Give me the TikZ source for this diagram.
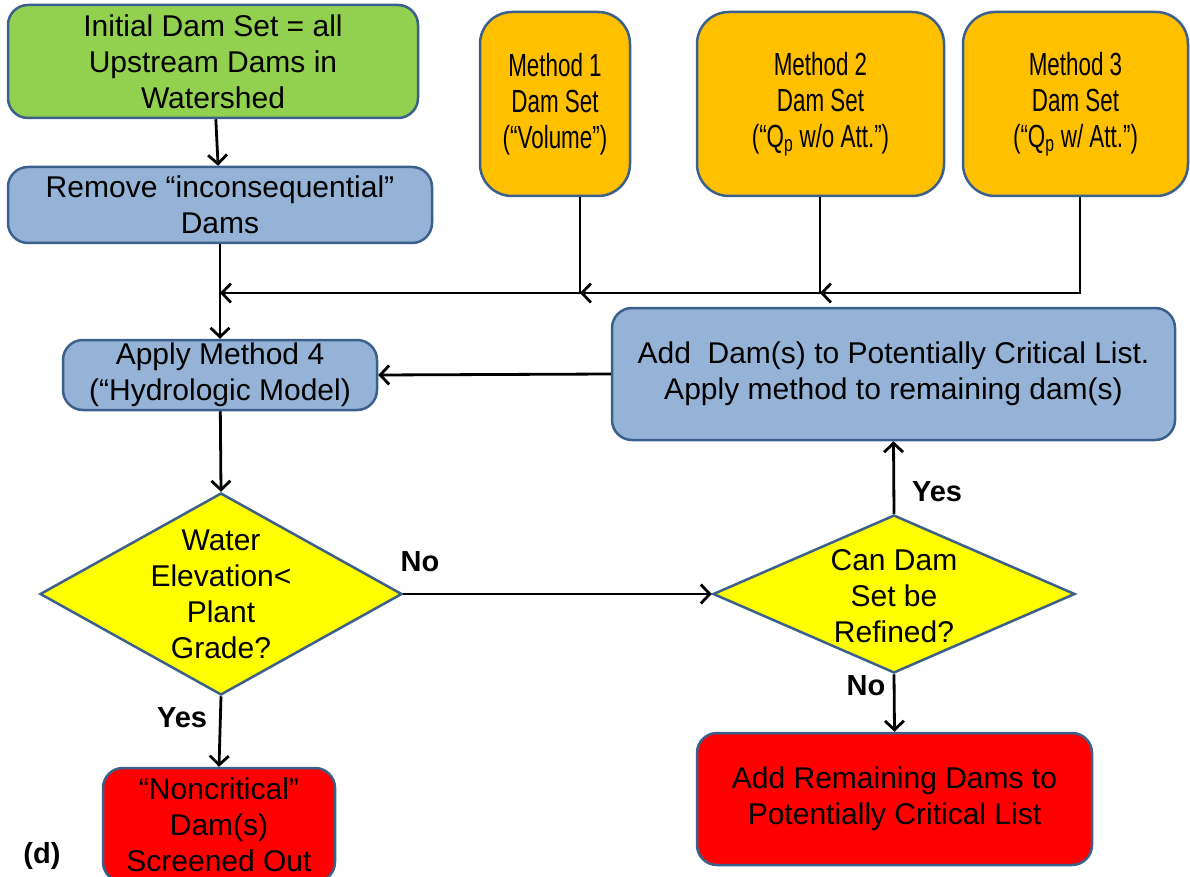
\documentclass[tikz,border=0pt]{standalone}
\usepackage{fontspec}
\setmainfont{Liberation Sans}
\newfontfamily\narrowsf[FakeStretch=0.7]{Liberation Sans}
\usetikzlibrary{arrows.meta}
\usetikzlibrary{shapes.geometric}
\tikzset{>={Straight Barb[length=9pt,width=19pt]}}
\definecolor{edgecol}{RGB}{60,96,140}
\definecolor{startcol}{RGB}{146,208,80}
\definecolor{stepcol}{RGB}{149,179,215}
\definecolor{methodcol}{RGB}{255,192,0}
\definecolor{askcol}{RGB}{255,255,0}
\definecolor{endcol}{RGB}{255,0,0}
\tikzset{
  box/.style={draw=edgecol,line width=2.5pt,rounded corners=20pt,inner sep=0pt,
              align=center,font=\fontsize{30}{36}\selectfont},
  startbox/.style={box,fill=startcol},
  stepbox/.style={box,fill=stepcol},
  methodbox/.style={box,fill=methodcol,rounded corners=32pt,
                    font=\fontsize{32}{36}\narrowsf},
  endbox/.style={box,fill=endcol},
  decision/.style={diamond,draw=edgecol,line width=2.5pt,fill=askcol,inner sep=0pt},
  asktext/.style={align=center,inner sep=0pt,font=\fontsize{30}{36}\selectfont},
  flow/.style={->,line width=2.8pt},
  answer/.style={font=\fontsize{29}{32}\selectfont\bfseries,inner sep=0pt}
}

\begin{document}
\begin{tikzpicture}[x=1pt,y=-1pt]
  \useasboundingbox (0,0) rectangle (1190,877);
  \def\hy{293} % height of collecting line

  % BOXES
  \node[startbox,minimum width=410,minimum height=113] (init) at (213,61.5)
    {Initial Dam Set = all\\Upstream Dams in\\Watershed};
  \node[stepbox,minimum width=424,minimum height=76] (remove) at (220,205)
    {Remove “inconsequential”\\Dams};
  \node[methodbox,minimum width=150,minimum height=184] (m1) at (555,104)
    {Method 1\\Dam Set\\(“Volume”)};
  \node[methodbox,minimum width=247,minimum height=184] (m2) at (820.5,104)
    {Method 2\\Dam Set\\(“Q\textsubscript{p} w/o Att.”)};
  \node[methodbox,minimum width=225,minimum height=184] (m3) at (1075.5,104)
    {Method 3\\Dam Set\\(“Q\textsubscript{p} w/ Att.”)};
  \node[stepbox,minimum width=314,minimum height=70] (apply) at (220,375)
    {Apply Method 4\\(“Hydrologic Model)};
  \node[stepbox,minimum width=563,minimum height=132] (add) at (893.5,374)
    {Add\ \ Dam(s) to Potentially Critical List.\\Apply method to remaining dam(s)};
  \node[endbox,minimum width=232,minimum height=114] (noncrit) at (219,825)
    {“Noncritical”\\Dam(s)\\Screened Out};
  \node[endbox,minimum width=395,minimum height=132] (remain) at (894.5,799)
    {Add Remaining Dams to\\Potentially Critical List};

  % DECISIONS
  \node[decision,minimum width=362,minimum height=202] (water) at (221,594) {};
  \node[asktext] (waterq) at (water) {Water\\Elevation<\\Plant\\Grade?};
  \node[decision,minimum width=362,minimum height=158] (can) at (894,594) {};
  \node[asktext] (canq) at ([yshift=-2pt]can) {Can Dam\\Set be\\Refined?};

  % JUNCTIONS
  \coordinate (j0) at (220,\hy);
  \coordinate (j1) at (580,\hy);
  \coordinate (j2) at (820,\hy);
  \coordinate (j3) at (1080,\hy);

  % LINES
  \draw[flow] (init) -- (remove);
  \draw[flow] (j3 |- m3.south) -- (j3) -- (j2);
  \draw[flow] (j2 |- m2.south) -- (j2) -- (j1);
  \draw[flow] (j1 |- m1.south) -- (j1) -- (j0);
  \draw[flow] (remove) -- (apply);
  \draw[flow] (add.west) -- (apply.east);
  \draw[flow] (apply) -- (water.north);
  \draw[flow] (water.east) -- (can.west);
  \draw[flow] (can.north) -- (add.south);
  \draw[flow] (can.south) -- (remain.north);
  \draw[flow] (water.south) -- (noncrit.north);

  % LABELS
  \node[answer] (noA) at (420,562) {No};
  \node[answer] (yesA) at (182,718) {Yes};
  \node[answer] (yesB) at (937,492) {Yes};
  \node[answer] (noB) at (866,686) {No};
  \node[answer] (tag) at (42,856) {(d)};
\end{tikzpicture}
\end{document}
